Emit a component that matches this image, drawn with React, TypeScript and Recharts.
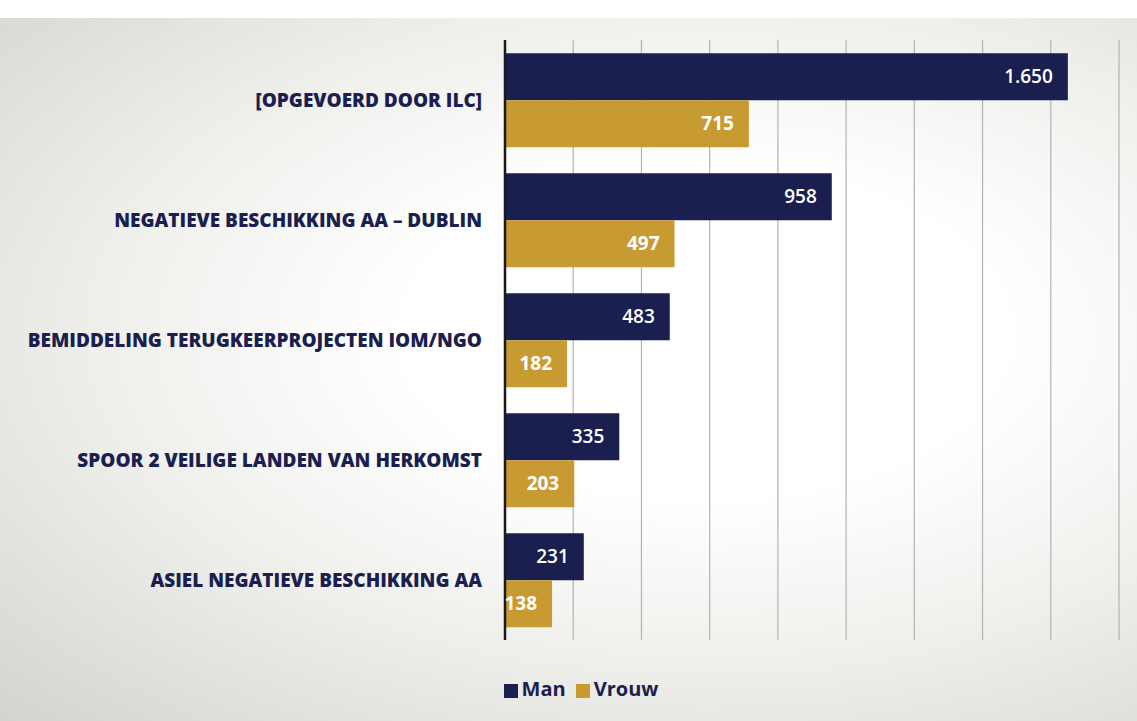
import React from 'react';
import { BarChart, Bar, XAxis, YAxis, CartesianGrid, Legend, LabelList } from 'recharts';

const categories = [
  '[OPGEVOERD DOOR ILC]',
  'NEGATIEVE BESCHIKKING AA – DUBLIN',
  'BEMIDDELING TERUGKEERPROJECTEN IOM/NGO',
  'SPOOR 2 VEILIGE LANDEN VAN HERKOMST',
  'ASIEL NEGATIEVE BESCHIKKING AA',
];
const manValues = [1650, 958, 483, 335, 231];
const vrouwValues = [715, 497, 182, 203, 138];
const xTicks = [0, 200, 400, 600, 800, 1000, 1200, 1400, 1600, 1800];

const NAVY = '#1b1f4f';
const GOLD = '#c89b32';
const FONT = '"Open Sans", "DejaVu Sans", sans-serif';

const data = categories.map((name, i) => ({ name, Man: manValues[i], Vrouw: vrouwValues[i] }));

// Dutch thousands separator: 1650 -> 1.650
const fmt = (v: number) => String(v).replace(/\B(?=(\d{3})+(?!\d))/g, '.');

const App: React.FC = () => {
  return (
    <div style={{ position: 'absolute', left: 0, top: 0, width: 1137, height: 721, background: '#fff', overflow: 'hidden' }}>
      <div
        style={{
          position: 'absolute',
          left: 0,
          top: 18,
          width: 1137,
          height: 703,
          background: 'radial-gradient(ellipse at 62% 45%, #ffffff 30%, #efefec 60%, #d3d3d0 100%)',
        }}
      />
      <div style={{ position: 'absolute', left: 0, top: 0 }}>
        <BarChart
          width={1137}
          height={721}
          data={data}
          layout="vertical"
          margin={{ top: 40, right: 18, bottom: 54, left: 0 }}
          barCategoryGap="11%"
          barGap={0}
          style={{ fontFamily: FONT }}
        >
          <CartesianGrid horizontal={false} vertical stroke="#b3b3b3" strokeWidth={1.2} />
          <XAxis type="number" domain={[0, 1800]} ticks={xTicks} hide />
          <YAxis
            type="category"
            dataKey="name"
            width={505}
            axisLine={{ stroke: '#1a1a1a', strokeWidth: 2.5 }}
            tickLine={false}
            tickMargin={17}
            tick={{ fill: NAVY, fontSize: 19, fontWeight: 800, fontFamily: FONT }}
          />
          <Legend
            verticalAlign="bottom"
            align="center"
            iconType="square"
            iconSize={14}
            wrapperStyle={{ top: 675, left: 0, width: 1172, fontFamily: FONT, fontWeight: 700, fontSize: 20 }}
            formatter={(value: string) => <span style={{ color: NAVY }}>{value}</span>}
          />
          <Bar dataKey="Man" fill={NAVY} isAnimationActive={false}>
            <LabelList
              dataKey="Man"
              position="insideRight"
              offset={15}
              formatter={(v: number) => fmt(v)}
              style={{ fill: '#ffffff', fontSize: 19, fontWeight: 600, fontFamily: FONT }}
            />
          </Bar>
          <Bar dataKey="Vrouw" fill={GOLD} isAnimationActive={false}>
            <LabelList
              dataKey="Vrouw"
              position="insideRight"
              offset={15}
              formatter={(v: number) => fmt(v)}
              style={{ fill: '#ffffff', fontSize: 19, fontWeight: 700, fontFamily: FONT }}
            />
          </Bar>
        </BarChart>
      </div>
    </div>
  );
};

export default App;
